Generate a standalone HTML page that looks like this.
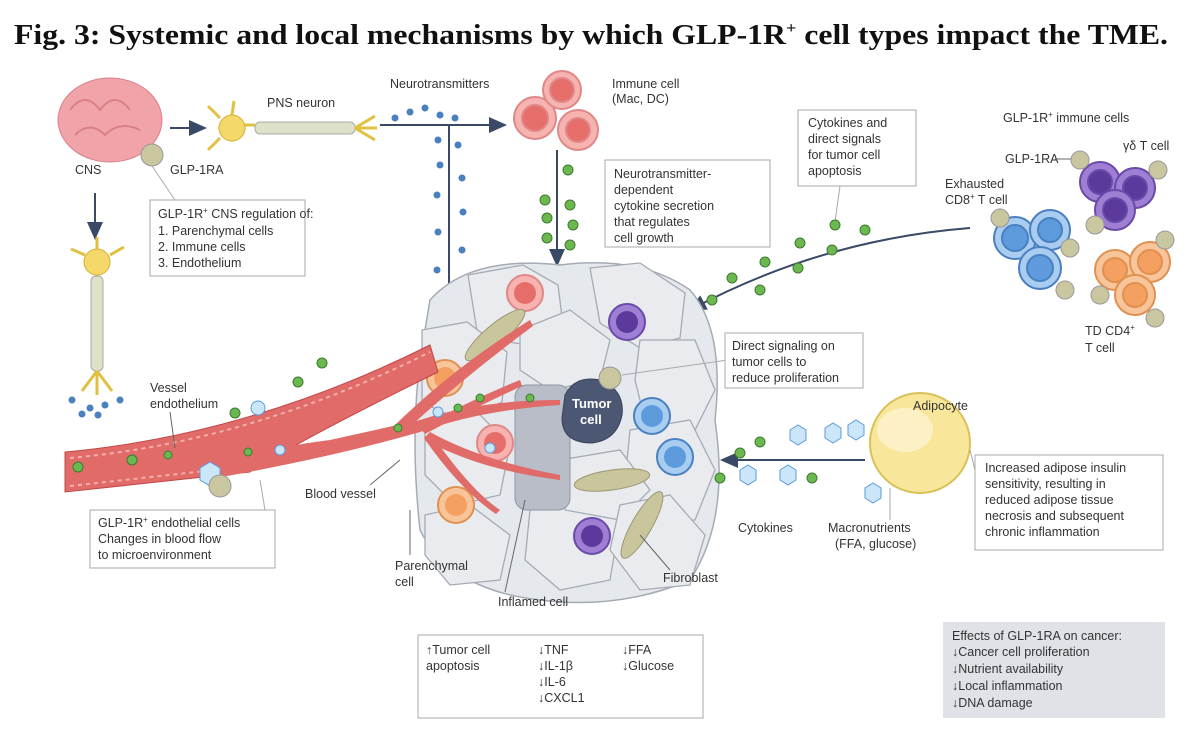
<!DOCTYPE html>
<html><head><meta charset="utf-8"><style>
body{margin:0;background:#fff;width:1200px;height:741px;overflow:hidden}
svg{display:block}
text{font-family:"Liberation Sans",sans-serif;font-size:12.5px;fill:#333}
.t{font-family:"Liberation Serif",serif;font-weight:bold;font-size:28px;fill:#111}
.box{fill:#fff;stroke:#aaa;stroke-width:1}
.cell{fill:#e9ebef;stroke:#a5abb5;stroke-width:1.3}
.nuc{fill:#d6d9de}
</style></head><body>
<svg width="1200" height="741" viewBox="0 0 1200 741">
<defs>
<marker id="ah" markerWidth="10" markerHeight="10" refX="8" refY="5" orient="auto"><path d="M0,1 L9,5 L0,9 z" fill="#3a4a66"/></marker>
</defs>
<text x="14" y="44" class="t" textLength="1154" lengthAdjust="spacingAndGlyphs">Fig. 3: Systemic and local mechanisms by which GLP-1R<tspan font-size="16" dy="-11">+</tspan><tspan dy="11"> cell types impact the TME.</tspan></text>

<!-- brain -->
<ellipse cx="110" cy="120" rx="52" ry="42" fill="#f0a3a8" stroke="#d98088"/>
<path d="M70,110 q15,-20 30,0 q15,-20 30,0 M75,135 q15,-15 30,0 q15,-15 35,-5" stroke="#d98088" fill="none" stroke-width="2"/>
<circle cx="152" cy="155" r="11" fill="#c9c6a0" stroke="#999"/>
<text x="75" y="174">CNS</text><text x="170" y="174">GLP-1RA</text>
<line x1="170" y1="128" x2="205" y2="128" stroke="#3a4a66" stroke-width="2" marker-end="url(#ah)"/>
<!-- neuron horizontal -->
<circle cx="232" cy="128" r="13" fill="#f5d86a" stroke="#d4b030"/>
<path d="M220,118 l-12,-12 M220,138 l-12,12 M232,115 l2,-14 M245,125 l10,0" stroke="#e0c040" stroke-width="3"/>
<rect x="255" y="122" width="100" height="12" rx="5" fill="#dfe0c8" stroke="#aaa"/>
<path d="M355,128 l20,-12 M355,128 l22,0 M355,128 l20,12" stroke="#e0c040" stroke-width="3"/>
<text x="267" y="107">PNS neuron</text>
<!-- vertical neuron -->
<line x1="95" y1="193" x2="95" y2="238" stroke="#3a4a66" stroke-width="2" marker-end="url(#ah)"/>
<circle cx="97" cy="262" r="13" fill="#f5d86a" stroke="#d4b030"/>
<path d="M85,255 l-14,-6 M110,255 l14,-8 M97,249 l0,-12" stroke="#e0c040" stroke-width="3"/>
<rect x="91" y="276" width="12" height="95" rx="5" fill="#dfe0c8" stroke="#aaa"/>
<path d="M97,371 l-15,20 M97,371 l0,24 M97,371 l15,20" stroke="#e0c040" stroke-width="3"/>
<g fill="#4a7fc0"><circle cx="72" cy="400" r="3.5"/><circle cx="90" cy="408" r="3.5"/><circle cx="105" cy="405" r="3.5"/><circle cx="120" cy="400" r="3.5"/><circle cx="98" cy="415" r="3.5"/><circle cx="82" cy="414" r="3.5"/></g>
<!-- CNS box -->
<rect x="150" y="200" width="155" height="76" class="box"/>
<text x="158" y="218">GLP-1R<tspan font-size="8" dy="-5">+</tspan><tspan dy="5"> CNS regulation of:</tspan></text>
<text x="158" y="235">1. Parenchymal cells</text><text x="158" y="251">2. Immune cells</text><text x="158" y="267">3. Endothelium</text>
<line x1="152" y1="166" x2="175" y2="200" stroke="#aaa"/>

<!-- neurotransmitters -->
<text x="390" y="88">Neurotransmitters</text>
<line x1="380" y1="125" x2="505" y2="125" stroke="#3a4a66" stroke-width="2" marker-end="url(#ah)"/>
<line x1="449" y1="125" x2="449" y2="340" stroke="#3a4a66" stroke-width="2" marker-end="url(#ah)"/>
<g fill="#4a7fc0"><circle cx="395" cy="118" r="3.5"/><circle cx="410" cy="112" r="3.5"/><circle cx="425" cy="108" r="3.5"/><circle cx="440" cy="115" r="3.5"/><circle cx="455" cy="118" r="3.5"/><circle cx="438" cy="140" r="3.5"/><circle cx="458" cy="145" r="3.5"/><circle cx="440" cy="165" r="3.5"/><circle cx="462" cy="178" r="3.5"/><circle cx="437" cy="195" r="3.5"/><circle cx="463" cy="212" r="3.5"/><circle cx="438" cy="232" r="3.5"/><circle cx="462" cy="250" r="3.5"/><circle cx="437" cy="270" r="3.5"/><circle cx="462" cy="288" r="3.5"/><circle cx="440" cy="305" r="3.5"/><circle cx="460" cy="320" r="3.5"/><circle cx="443" cy="330" r="3.5"/></g>
<!-- immune cells top -->
<g stroke="#e08888" stroke-width="2"><circle cx="535" cy="118" r="21" fill="#f6b3b0"/><circle cx="535" cy="118" r="13" fill="#e66e6a"/>
<circle cx="562" cy="90" r="19" fill="#f6b3b0"/><circle cx="562" cy="90" r="12" fill="#e66e6a"/>
<circle cx="578" cy="130" r="20" fill="#f6b3b0"/><circle cx="578" cy="130" r="12" fill="#e66e6a"/></g>
<text x="612" y="88">Immune cell</text><text x="612" y="103">(Mac, DC)</text>
<line x1="557" y1="150" x2="557" y2="265" stroke="#3a4a66" stroke-width="2" marker-end="url(#ah)"/>
<g fill="#6ab84f" stroke="#3d7a2e"><circle cx="568" cy="170" r="5"/><circle cx="545" cy="200" r="5"/><circle cx="570" cy="205" r="5"/><circle cx="547" cy="218" r="5"/><circle cx="573" cy="225" r="5"/><circle cx="547" cy="238" r="5"/><circle cx="570" cy="245" r="5"/><circle cx="553" cy="272" r="5"/></g>
<rect x="605" y="160" width="165" height="87" class="box"/>
<text x="614" y="178">Neurotransmitter-</text><text x="614" y="194">dependent</text><text x="614" y="210">cytokine secretion</text><text x="614" y="226">that regulates</text><text x="614" y="242">cell growth</text>
<!-- cytokines box -->
<rect x="798" y="110" width="118" height="76" class="box"/>
<text x="808" y="127">Cytokines and</text><text x="808" y="143">direct signals</text><text x="808" y="159">for tumor cell</text><text x="808" y="175">apoptosis</text>
<line x1="840" y1="186" x2="835" y2="222" stroke="#aaa"/>
<path d="M970,228 Q820,240 690,310" fill="none" stroke="#3a4a66" stroke-width="2" marker-end="url(#ah)"/>
<g fill="#6ab84f" stroke="#3d7a2e"><circle cx="835" cy="225" r="5"/><circle cx="865" cy="230" r="5"/><circle cx="800" cy="243" r="5"/><circle cx="832" cy="250" r="5"/><circle cx="765" cy="262" r="5"/><circle cx="798" cy="268" r="5"/><circle cx="732" cy="278" r="5"/><circle cx="760" cy="290" r="5"/><circle cx="683" cy="292" r="5"/><circle cx="712" cy="300" r="5"/></g>
<!-- GLP-1R immune cells -->
<text x="1003" y="122">GLP-1R<tspan font-size="8" dy="-5">+</tspan><tspan dy="5"> immune cells</tspan></text>
<text x="1005" y="163">GLP-1RA</text><line x1="1055" y1="159" x2="1075" y2="159" stroke="#666"/>
<text x="1123" y="150">γδ T cell</text>
<text x="945" y="188">Exhausted</text><text x="945" y="204">CD8<tspan font-size="8" dy="-5">+</tspan><tspan dy="5"> T cell</tspan></text>
<g stroke="#6a4aa8" stroke-width="2"><circle cx="1100" cy="182" r="20" fill="#9e7fd4"/><circle cx="1100" cy="182" r="12" fill="#5b3a9c"/>
<circle cx="1135" cy="188" r="20" fill="#9e7fd4"/><circle cx="1135" cy="188" r="12" fill="#5b3a9c"/>
<circle cx="1115" cy="210" r="20" fill="#9e7fd4"/><circle cx="1115" cy="210" r="12" fill="#5b3a9c"/></g>
<g stroke="#4a80c0" stroke-width="2"><circle cx="1015" cy="238" r="21" fill="#a9cdf0"/><circle cx="1015" cy="238" r="13" fill="#5d9bdc"/>
<circle cx="1050" cy="230" r="20" fill="#a9cdf0"/><circle cx="1050" cy="230" r="12" fill="#5d9bdc"/>
<circle cx="1040" cy="268" r="21" fill="#a9cdf0"/><circle cx="1040" cy="268" r="13" fill="#5d9bdc"/></g>
<g stroke="#e09050" stroke-width="2"><circle cx="1115" cy="270" r="20" fill="#f8c59a"/><circle cx="1115" cy="270" r="12" fill="#f4a060"/>
<circle cx="1150" cy="262" r="20" fill="#f8c59a"/><circle cx="1150" cy="262" r="12" fill="#f4a060"/>
<circle cx="1135" cy="295" r="20" fill="#f8c59a"/><circle cx="1135" cy="295" r="12" fill="#f4a060"/></g>
<g fill="#c9c6a0" stroke="#999"><circle cx="1080" cy="160" r="9"/><circle cx="1158" cy="170" r="9"/><circle cx="1095" cy="225" r="9"/><circle cx="1000" cy="218" r="9"/><circle cx="1070" cy="248" r="9"/><circle cx="1065" cy="290" r="9"/><circle cx="1100" cy="295" r="9"/><circle cx="1165" cy="240" r="9"/><circle cx="1155" cy="318" r="9"/></g>
<text x="1085" y="335">TD CD4<tspan font-size="8" dy="-5">+</tspan></text><text x="1085" y="352">T cell</text>

<!-- tumor cluster -->
<path d="M430,300 Q470,255 560,265 Q640,255 690,290 Q725,330 715,420 Q730,520 690,580 Q620,610 540,600 Q450,590 420,530 Q410,440 420,360 z" fill="#e5e8ec" stroke="#a5abb5" stroke-width="1.5"/>
<g>
<path class="cell" d="M468,275 l55,-10 l35,20 l5,40 l-35,20 l-50,-8 z"/>
<path class="cell" d="M590,268 l50,-5 l45,30 l-5,45 l-40,10 l-40,-25 z"/>
<path class="cell" d="M422,330 l45,-8 l40,30 l-5,50 l-40,20 l-40,-20 z"/>
<path class="cell" d="M520,330 l50,-20 l40,30 l-10,40 l-50,10 l-30,-20 z"/>
<path class="cell" d="M640,340 l55,0 l20,50 l-20,40 l-50,-10 l-10,-40 z"/>
<path class="cell" d="M425,430 l50,-20 l35,35 l-10,50 l-45,10 l-30,-30 z"/>
<path class="cell" d="M630,430 l60,-10 l25,50 l-20,50 l-50,0 l-20,-40 z"/>
<path class="cell" d="M425,515 l45,-10 l40,30 l-10,45 l-50,5 l-25,-30 z"/>
<path class="cell" d="M530,510 l50,-15 l40,25 l-10,60 l-50,10 l-35,-30 z"/>
<path class="cell" d="M560,460 l60,-10 l30,40 l-30,30 l-55,-10 z"/>
<path class="cell" d="M620,505 l50,-10 l35,40 l-15,50 l-50,5 l-30,-40 z"/>
</g>
<rect x="515" y="385" width="55" height="125" rx="12" fill="#b8bdc8" stroke="#8f96a3"/>
<g stroke-width="2">
<circle cx="525" cy="293" r="18" fill="#f6b3b0" stroke="#e08888"/><circle cx="525" cy="293" r="11" fill="#e66e6a"/>
<circle cx="627" cy="322" r="18" fill="#9e7fd4" stroke="#6a4aa8"/><circle cx="627" cy="322" r="11" fill="#5b3a9c"/>
<circle cx="445" cy="378" r="18" fill="#f8c59a" stroke="#e09050"/><circle cx="445" cy="378" r="11" fill="#f4a060"/>
<circle cx="495" cy="443" r="18" fill="#f6b3b0" stroke="#e08888"/><circle cx="495" cy="443" r="11" fill="#e66e6a"/>
<circle cx="456" cy="505" r="18" fill="#f8c59a" stroke="#e09050"/><circle cx="456" cy="505" r="11" fill="#f4a060"/>
<circle cx="652" cy="416" r="18" fill="#a9cdf0" stroke="#4a80c0"/><circle cx="652" cy="416" r="11" fill="#5d9bdc"/>
<circle cx="675" cy="457" r="18" fill="#a9cdf0" stroke="#4a80c0"/><circle cx="675" cy="457" r="11" fill="#5d9bdc"/>
<circle cx="592" cy="536" r="18" fill="#9e7fd4" stroke="#6a4aa8"/><circle cx="592" cy="536" r="11" fill="#5b3a9c"/>
</g>
<g fill="#c9c59c" stroke="#9a9670">
<ellipse cx="495" cy="335" rx="38" ry="10" transform="rotate(-40 495 335)"/>
<ellipse cx="612" cy="480" rx="38" ry="10" transform="rotate(-8 612 480)"/>
<ellipse cx="642" cy="525" rx="38" ry="10" transform="rotate(-60 642 525)"/>
</g>
<path d="M565,395 q10,-20 35,-15 q25,10 22,35 q-5,25 -30,28 q-30,0 -30,-25 z" fill="#4c5873" stroke="#38425a"/>
<text x="572" y="408" style="fill:#fff;font-weight:bold;font-size:13px">Tumor</text>
<text x="580" y="424" style="fill:#fff;font-weight:bold;font-size:13px">cell</text>
<circle cx="610" cy="378" r="11" fill="#c9c6a0" stroke="#999"/>
<line x1="622" y1="375" x2="728" y2="360" stroke="#aaa"/>
<rect x="725" y="333" width="138" height="55" class="box"/>
<text x="732" y="350">Direct signaling on</text><text x="732" y="366">tumor cells to</text><text x="732" y="382">reduce proliferation</text>

<!-- vessel -->
<path d="M65,452 Q250,435 430,345 L438,372 Q300,440 250,472 L65,492 z" fill="#e06b68" stroke="#c04848"/>
<path d="M70,458 Q250,442 430,352" stroke="#f4b0ae" stroke-width="2" stroke-dasharray="4 4" fill="none"/>
<path d="M70,486 L250,466" stroke="#f4b0ae" stroke-width="2" stroke-dasharray="4 4" fill="none"/>
<path d="M200,472 Q250,450 330,440 L420,420 Q480,400 560,400 L560,405 Q480,410 420,432 Q330,458 205,480 z" fill="#e06b68"/>
<path d="M390,430 Q450,370 530,320 L533,326 Q460,380 400,436 z" fill="#e06b68"/>
<path d="M420,428 Q470,400 520,380 L522,386 Q470,410 425,434 z" fill="#e06b68"/>
<path d="M430,432 Q480,460 560,475 L560,480 Q480,470 425,440 z" fill="#e06b68"/>
<path d="M430,432 Q470,490 500,510 L496,514 Q460,490 424,438 z" fill="#e06b68"/>
<g fill="#6ab84f" stroke="#3d7a2e"><circle cx="78" cy="467" r="5"/><circle cx="132" cy="460" r="5"/><circle cx="235" cy="413" r="5"/><circle cx="298" cy="382" r="5"/><circle cx="322" cy="363" r="5"/><circle cx="168" cy="455" r="4"/><circle cx="248" cy="452" r="4"/><circle cx="398" cy="428" r="4"/><circle cx="480" cy="398" r="4"/><circle cx="458" cy="408" r="4"/><circle cx="530" cy="398" r="4"/></g>
<g fill="#cbe6f8" stroke="#5d9bdc"><circle cx="258" cy="408" r="7"/><polygon points="200,468 210,462 220,468 220,480 210,486 200,480"/><circle cx="280" cy="450" r="5"/><circle cx="438" cy="412" r="5"/><circle cx="490" cy="448" r="5"/></g>
<circle cx="220" cy="486" r="11" fill="#c9c6a0" stroke="#999"/>
<text x="150" y="392">Vessel</text><text x="150" y="408">endothelium</text>
<line x1="170" y1="412" x2="175" y2="448" stroke="#666"/>
<rect x="90" y="510" width="185" height="58" class="box"/>
<text x="98" y="527">GLP-1R<tspan font-size="8" dy="-5">+</tspan><tspan dy="5"> endothelial cells</tspan></text>
<text x="98" y="543">Changes in blood flow</text><text x="98" y="559">to microenvironment</text>
<line x1="260" y1="480" x2="265" y2="510" stroke="#aaa"/>
<text x="305" y="498">Blood vessel</text><line x1="370" y1="485" x2="400" y2="460" stroke="#666"/>
<text x="395" y="570">Parenchymal</text><text x="395" y="586">cell</text><line x1="410" y1="555" x2="410" y2="510" stroke="#666"/>
<text x="498" y="606">Inflamed cell</text><line x1="505" y1="592" x2="525" y2="500" stroke="#666"/>
<text x="663" y="582">Fibroblast</text><line x1="670" y1="570" x2="640" y2="535" stroke="#666"/>

<!-- adipocyte -->
<circle cx="920" cy="443" r="50" fill="#f8e79a" stroke="#d9c15a" stroke-width="2"/>
<ellipse cx="905" cy="430" rx="28" ry="22" fill="#fbf1c4"/>
<text x="913" y="410">Adipocyte</text>
<line x1="865" y1="460" x2="722" y2="460" stroke="#3a4a66" stroke-width="2" marker-end="url(#ah)"/>
<g fill="#cbe6f8" stroke="#5d9bdc">
<polygon points="790,430 798,425 806,430 806,440 798,445 790,440"/><polygon points="825,428 833,423 841,428 841,438 833,443 825,438"/><polygon points="848,425 856,420 864,425 864,435 856,440 848,435"/>
<polygon points="740,470 748,465 756,470 756,480 748,485 740,480"/><polygon points="780,470 788,465 796,470 796,480 788,485 780,480"/><polygon points="865,488 873,483 881,488 881,498 873,503 865,498"/></g>
<g fill="#6ab84f" stroke="#3d7a2e"><circle cx="760" cy="442" r="5"/><circle cx="740" cy="453" r="5"/><circle cx="812" cy="478" r="5"/><circle cx="720" cy="478" r="5"/></g>
<text x="738" y="532">Cytokines</text><text x="828" y="532">Macronutrients</text><text x="835" y="548">(FFA, glucose)</text>
<line x1="890" y1="488" x2="890" y2="520" stroke="#aaa"/>
<rect x="975" y="455" width="188" height="95" class="box"/>
<line x1="970" y1="450" x2="975" y2="470" stroke="#aaa"/>
<text x="985" y="472">Increased adipose insulin</text><text x="985" y="488">sensitivity, resulting in</text><text x="985" y="504">reduced adipose tissue</text><text x="985" y="520">necrosis and subsequent</text><text x="985" y="536">chronic inflammation</text>

<!-- bottom boxes -->
<rect x="418" y="635" width="285" height="83" class="box"/>
<text x="426" y="654">↑Tumor cell</text><text x="426" y="670">apoptosis</text>
<text x="538" y="654">↓TNF</text><text x="538" y="670">↓IL-1β</text><text x="538" y="686">↓IL-6</text><text x="538" y="702">↓CXCL1</text>
<text x="622" y="654">↓FFA</text><text x="622" y="670">↓Glucose</text>
<rect x="943" y="622" width="222" height="96" fill="#dfe3e8"/>
<text x="952" y="640">Effects of GLP-1RA on cancer:</text><text x="952" y="656">↓Cancer cell proliferation</text><text x="952" y="673">↓Nutrient availability</text><text x="952" y="690">↓Local inflammation</text><text x="952" y="707">↓DNA damage</text>
</svg>
</body></html>
